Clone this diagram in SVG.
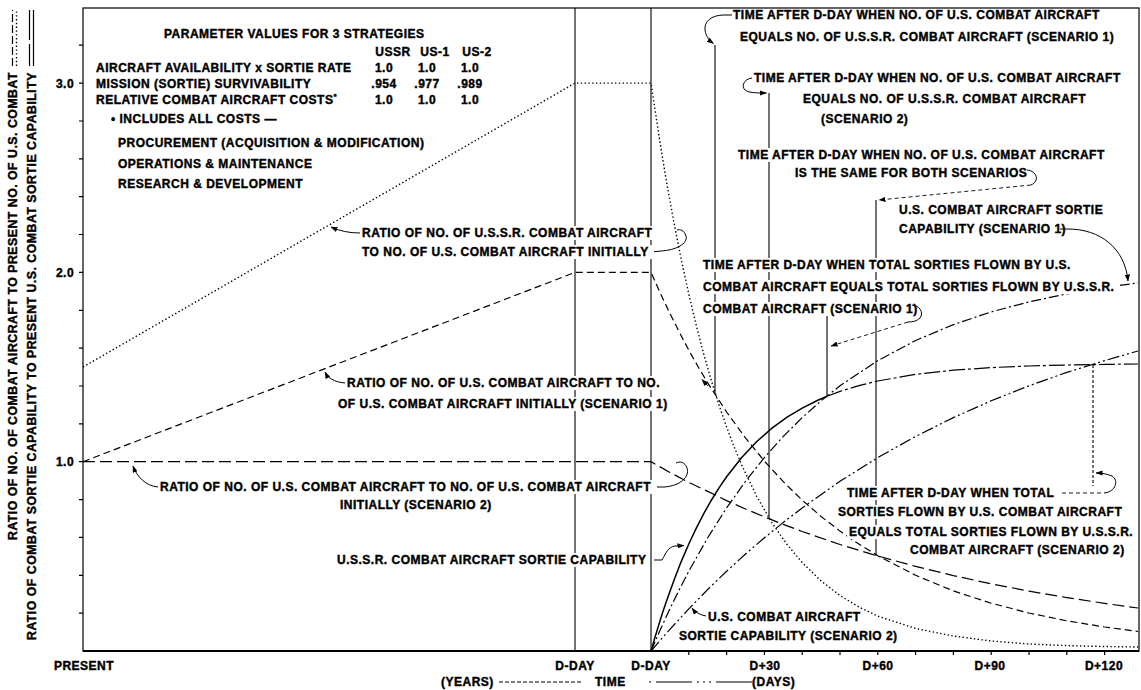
<svg xmlns="http://www.w3.org/2000/svg" width="1141" height="690" viewBox="0 0 1141 690">
<style>
.t{font-family:"Liberation Sans",Arial,Helvetica,sans-serif;font-weight:bold;font-size:12px;letter-spacing:0.5px;fill:#000;stroke:#000;stroke-width:0.4}
.m{text-anchor:middle}
.ko{fill:#fff;stroke:none}
.ax{fill:none;stroke:#000;stroke-width:1.2}
.vm{fill:none;stroke:#000;stroke-width:1.1}
.c{fill:none;stroke:#000;stroke-width:1}
.ld{fill:none;stroke:#000;stroke-width:0.9;stroke-dasharray:4 3}
.cu{fill:none;stroke:#000;stroke-width:1.2}
.dot{stroke-dasharray:1.4 2.4;stroke-width:1.4}
.d1{stroke-dasharray:7 4}
.d2{stroke-dasharray:12 5}
.so{stroke-width:1.5}
.dd1{stroke-dasharray:10 3 2 3}
.dd2{stroke-dasharray:12 3 2 3 2 3}
</style>
<defs>
<marker id="ah" viewBox="0 0 8 6" refX="7.5" refY="3" markerWidth="7" markerHeight="5.2" markerUnits="userSpaceOnUse" orient="auto"><path d="M0,0 L8,3 L0,6 Z" fill="#000"/></marker>
</defs>
<rect width="1141" height="690" fill="#fff"/>

<g id="axes">
<rect class="ax" x="83" y="8" width="1056" height="643"/>
<path d="M83,651 H1139" stroke="#000" stroke-width="2.2" fill="none"/>
<path class="ax" d="M79,613.1H83M79,575.3H83M79,537.4H83M79,499.6H83M79,461.7H83M79,423.8H83M79,386H83M79,348.1H83M79,310.3H83M79,272.4H83M79,234.5H83M79,196.7H83M79,158.8H83M79,121H83M79,83.1H83M79,45.2H83"/>
<path class="ax" d="M688.8,651V655M726.6,651V655M764.4,651V655M802.2,651V655M840,651V655M877.8,651V655M915.6,651V655M953.4,651V655M991.2,651V655M1029,651V655M1066.8,651V655M1104.6,651V655"/>
<path class="vm" d="M575,8V651M651,8V651"/>
<text class="t m" x="65" y="87.5">3.0</text>
<text class="t m" x="65" y="276.7">2.0</text>
<text class="t m" x="65" y="466">1.0</text>
<text class="t m" x="84" y="670">PRESENT</text>
<text class="t m" x="575" y="670">D-DAY</text>
<text class="t m" x="651" y="670">D-DAY</text>
<text class="t m" x="765" y="670">D+30</text>
<text class="t m" x="878" y="670">D+60</text>
<text class="t m" x="990" y="670">D+90</text>
<text class="t m" x="1104" y="670">D+120</text>
<text class="t" x="441" y="686">(YEARS)</text>
<path class="c" d="M499,682H583" stroke-dasharray="4 2"/>
<text class="t" x="595" y="686">TIME</text>
<path class="c" d="M649,682H651M656,682H692M697,682H699M703,682H705M709,682H711M716,682H752"/>
<text class="t" x="752" y="686">(DAYS)</text>
</g>

<g id="y-axis-labels">
<text class="t" transform="translate(16.5,540) rotate(-90)" textLength="468" lengthAdjust="spacingAndGlyphs">RATIO OF NO. OF COMBAT AIRCRAFT TO PRESENT NO. OF U.S. COMBAT</text>
<text class="t" transform="translate(35.5,640) rotate(-90)" textLength="568" lengthAdjust="spacingAndGlyphs">RATIO OF COMBAT SORTIE CAPABILITY TO PRESENT U.S. COMBAT SORTIE CAPABILITY</text>
<path class="cu" d="M12.5,66V10" stroke-dasharray="8 3"/>
<path class="cu dot" d="M16.5,66V10"/>
<path class="cu" d="M29.5,66V44M29.5,40V10"/>
<path class="cu" d="M33.5,66V10"/>
</g>

<g id="curves">
<path class="cu dot" d="M83,367 L575,83.1 L651,83.1 L658.6,133.5 L666.1,179.5 L673.7,221.3 L681.2,259.5 L688.8,294.2 L696.4,326 L703.9,354.8 L711.5,381.1 L719,405.1 L726.6,426.9 L734.1,446.8 L741.7,465 L756.8,496.5 L772,522.8 L787.1,544.5 L802.2,562.6 L821.1,580.9 L840,595.5 L858.9,607 L877.8,616.1 L915.6,628.5 L953.4,636 L991.2,641 L1029,644 L1066.8,645.6 L1104.6,646.5 L1138,647"/>
<path class="cu d1" d="M83,461.7 L575,272.4 L651,272.4 L660.5,293.6 L669.9,313.5 L679.4,332.3 L688.8,350.2 L698.3,367 L707.7,382.9 L726.6,412 L745.5,438 L764.4,461.1 L783.3,481.7 L802.2,500.1 L821.1,516.5 L840,531.1 L858.9,544.1 L877.8,555.7 L915.6,575.3 L953.4,590.9 L991.2,603.2 L1029,613 L1066.8,620.8 L1104.6,627 L1138,631.5"/>
<path class="cu d2" d="M83,461.7 L651,461.7 L669.9,472.4 L688.8,482.3 L707.7,491.4 L726.6,500.6 L745.5,509 L764.4,516.9 L783.3,524.4 L802.2,531.5 L840,544.5 L877.8,556 L915.6,566.4 L953.4,575.6 L991.2,583.8 L1029,591.1 L1066.8,597.6 L1104.6,603.4 L1138,608"/>
<path class="cu so" d="M651,651 L654.8,637.9 L658.6,625.5 L662.3,613.5 L666.1,602.2 L673.7,581 L681.2,561.6 L688.8,544 L696.4,527.9 L703.9,513.3 L711.5,500 L719,487.9 L726.6,476.8 L741.7,457.5 L756.8,441.5 L772,428.2 L787.1,417.2 L802.2,408.1 L817.3,400.5 L827.1,396.2"/>
<path class="cu" stroke-dasharray="16 3 3 3" d="M827.1,396.2 L840,391.4 L858.9,385.6 L877.8,381 L915.6,374.4 L953.4,370.2 L991.2,367.6 L1029,366 L1066.8,365 L1104.6,364.4 L1138,364"/>
<path class="cu dd1" d="M651,651 L660.5,629.3 L669.9,608.9 L679.4,589.5 L688.8,571.2 L707.7,537.8 L726.6,507.9 L745.5,481.3 L764.4,457.6 L783.3,436.4 L802.2,417.6 L821.1,400.8 L840,385.8 L877.8,360.6 L915.6,340.5 L953.4,324.6 L991.2,311.9 L1029,301.9 L1066.8,293.9 L1104.6,287.5 L1138,282.9"/>
<path class="cu dd2" d="M651,651 L669.9,629.3 L688.8,608.9 L707.7,589.5 L726.6,571.2 L745.5,554 L764.4,537.8 L783.3,522.4 L802.2,507.9 L840,481.3 L877.8,457.6 L915.6,436.4 L953.4,417.6 L991.2,400.8 L1029,385.8 L1066.8,372.4 L1104.6,360.6 L1138,351"/>
</g>

<g id="markers">
<path class="vm" d="M715,45V393"/>
<path class="vm" d="M769,93V518"/>
<path class="vm" d="M876,200V556"/>
<path class="vm" d="M827,315V396"/>
<path class="vm" d="M1093,365V486" stroke-dasharray="3 2"/>
</g>

<g id="connectors">
<path class="c" marker-end="url(#ah)" d="M732,15 L724,15 C711,15 704,22 705,30 C706,37 710,41 713.5,43.5"/>
<path class="c" marker-end="url(#ah)" d="M752,78 C744,79 741,86 745,90 C749,93 757,93 766.5,93"/>
<path class="c" d="M1027,170 C1037,171 1040,181 1031,185"/>
<path class="ld" marker-end="url(#ah)" d="M1031,185 L879,200"/>
<path class="c" marker-end="url(#ah)" d="M1060,229 L1068,229 C1100,229 1125,248 1128,281"/>
<path class="c" d="M911,305 C920,305 924,313 920,318 C917,321 913,322 908,322"/>
<path class="ld" marker-end="url(#ah)" d="M908,322 L831,346"/>
<path class="c" marker-end="url(#ah)" d="M360,233 C349,233 340,231 331,227"/>
<path class="c" d="M651,252 L661,251 C676,250 688,244 686,236 C684,230 680,229 677,230"/>
<path class="c" marker-end="url(#ah)" d="M345,383 C334,382 328,378 325,372"/>
<path class="c" marker-end="url(#ah)" d="M708,386 L702,379.5"/>
<path class="c" marker-end="url(#ah)" d="M158,487 C146,486 137,477 133,466"/>
<path class="c" d="M654,487 L664,487 C680,486 690,477 687,468 C685,462 680,461 676,463"/>
<path class="c" marker-end="url(#ah)" d="M654,560 L662,560 C666,553 668,547 675,546 L684,545.5"/>
<path class="c" marker-end="url(#ah)" d="M706,616 C700,615 695,612 692,608"/>
<path class="ld" d="M1062,493 L1104,493"/>
<path class="c" marker-end="url(#ah)" d="M1104,493 C1116,492 1119,480 1112,476 C1107,474 1102,473 1096,473"/>
</g>

<g id="parameter-table">
<text class="t" x="164" y="38.3">PARAMETER VALUES FOR 3 STRATEGIES</text>
<text class="t m" x="393" y="56.3">USSR</text>
<text class="t m" x="435" y="56.3">US-1</text>
<text class="t m" x="477" y="56.3">US-2</text>
<text class="t" x="96" y="72.3">AIRCRAFT AVAILABILITY x SORTIE RATE</text>
<text class="t m" x="384" y="72.3">1.0</text>
<text class="t m" x="427" y="72.3">1.0</text>
<text class="t m" x="470" y="72.3">1.0</text>
<text class="t" x="96" y="88.3">MISSION (SORTIE) SURVIVABILITY</text>
<text class="t m" x="384" y="88.3">.954</text>
<text class="t m" x="427" y="88.3">.977</text>
<text class="t m" x="470" y="88.3">.989</text>
<text class="t" x="96" y="104.3">RELATIVE COMBAT AIRCRAFT COSTS<tspan font-size="8" dy="-5">*</tspan></text>
<text class="t m" x="384" y="104.3">1.0</text>
<text class="t m" x="427" y="104.3">1.0</text>
<text class="t m" x="470" y="104.3">1.0</text>
<text class="t" x="111" y="123.3">• INCLUDES ALL COSTS —</text>
<text class="t" x="118" y="147.3">PROCUREMENT (ACQUISITION &amp; MODIFICATION)</text>
<text class="t" x="118" y="168.3">OPERATIONS &amp; MAINTENANCE</text>
<text class="t" x="118" y="188.3">RESEARCH &amp; DEVELOPMENT</text>
</g>

<g id="label-A">
<text class="t" x="733" y="19.3">TIME AFTER D-DAY WHEN NO. OF U.S. COMBAT AIRCRAFT</text>
<text class="t" x="740" y="41.3">EQUALS NO. OF U.S.S.R. COMBAT AIRCRAFT (SCENARIO 1)</text>
</g>
<g id="label-B">
<text class="t" x="754" y="82.3">TIME AFTER D-DAY WHEN NO. OF U.S. COMBAT AIRCRAFT</text>
<text class="t" x="803" y="103.3">EQUALS NO. OF U.S.S.R. COMBAT AIRCRAFT</text>
<text class="t" x="821" y="123.3">(SCENARIO 2)</text>
</g>
<g id="label-C">
<rect class="ko" x="736" y="148" width="374" height="14"/>
<text class="t" x="738" y="159.3">TIME AFTER D-DAY WHEN NO. OF U.S. COMBAT AIRCRAFT</text>
<text class="t" x="795" y="177.3">IS THE SAME FOR BOTH SCENARIOS</text>
</g>
<g id="label-D">
<text class="t" x="899" y="214.3">U.S. COMBAT AIRCRAFT SORTIE</text>
<text class="t" x="899" y="233.3">CAPABILITY (SCENARIO 1)</text>
</g>
<g id="label-E">
<rect class="ko" x="701" y="258" width="375" height="14"/>
<rect class="ko" x="701" y="280" width="419" height="14"/>
<rect class="ko" x="701" y="302" width="211" height="14"/>
<text class="t" x="703" y="269.3">TIME AFTER D-DAY WHEN TOTAL SORTIES FLOWN BY U.S.</text>
<text class="t" x="703" y="291.3">COMBAT AIRCRAFT EQUALS TOTAL SORTIES FLOWN BY U.S.S.R.</text>
<text class="t" x="703" y="313.3">COMBAT AIRCRAFT (SCENARIO 1)</text>
</g>
<g id="label-F">
<rect class="ko" x="360" y="226" width="296" height="14"/>
<rect class="ko" x="360" y="245" width="294" height="14"/>
<text class="t" x="362" y="237.3">RATIO OF NO. OF U.S.S.R. COMBAT AIRCRAFT</text>
<text class="t" x="362" y="256.3">TO NO. OF U.S. COMBAT AIRCRAFT INITIALLY</text>
</g>
<g id="label-G">
<rect class="ko" x="345" y="376" width="320" height="14"/>
<rect class="ko" x="336" y="397" width="328" height="14"/>
<text class="t" x="347" y="387.3">RATIO OF NO. OF U.S. COMBAT AIRCRAFT TO NO.</text>
<text class="t" x="338" y="408.3">OF U.S. COMBAT AIRCRAFT INITIALLY (SCENARIO 1)</text>
</g>
<g id="label-H">
<rect class="ko" x="158" y="480" width="499" height="14"/>
<text class="t" x="160" y="491.3">RATIO OF NO. OF U.S. COMBAT AIRCRAFT TO NO. OF U.S. COMBAT AIRCRAFT</text>
<text class="t" x="340" y="509.3">INITIALLY (SCENARIO 2)</text>
</g>
<g id="label-I">
<rect class="ko" x="335" y="553" width="315" height="14"/>
<text class="t" x="337" y="564.3">U.S.S.R. COMBAT AIRCRAFT SORTIE CAPABILITY</text>
</g>
<g id="label-J">
<text class="t" x="708" y="621.3">U.S. COMBAT AIRCRAFT</text>
<text class="t" x="679" y="640.3">SORTIE CAPABILITY (SCENARIO 2)</text>
</g>
<g id="label-K">
<rect class="ko" x="845" y="486" width="214" height="14"/>
<rect class="ko" x="836" y="505" width="290" height="14"/>
<rect class="ko" x="847" y="525" width="289" height="14"/>
<rect class="ko" x="908" y="543" width="211" height="14"/>
<text class="t" x="847" y="497.3">TIME AFTER D-DAY WHEN TOTAL</text>
<text class="t" x="838" y="516.3">SORTIES FLOWN BY U.S. COMBAT AIRCRAFT</text>
<text class="t" x="849" y="536.3">EQUALS TOTAL SORTIES FLOWN BY U.S.S.R.</text>
<text class="t" x="910" y="554.3">COMBAT AIRCRAFT (SCENARIO 2)</text>
</g>
</svg>
